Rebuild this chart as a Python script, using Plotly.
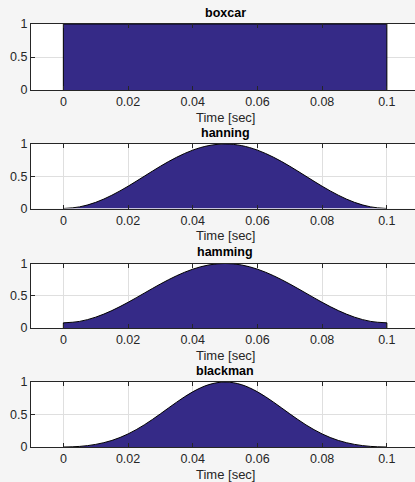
import plotly.graph_objects as go

# ---- data ----
titles = ["boxcar", "hanning", "hamming", "blackman"]
t_box = [0.0, 0.1]
boxcar = [1.0, 1.0]
t = [0.0, 0.005, 0.01, 0.015, 0.02, 0.025, 0.03, 0.035, 0.04, 0.045, 0.05,
     0.055, 0.06, 0.065, 0.07, 0.075, 0.08, 0.085, 0.09, 0.095, 0.1]
hanning = [0.0, 0.025, 0.095, 0.206, 0.345, 0.5, 0.655, 0.794, 0.905, 0.976, 1.0,
           0.976, 0.905, 0.794, 0.655, 0.5, 0.345, 0.206, 0.095, 0.025, 0.0]
hamming = [0.08, 0.102, 0.168, 0.27, 0.398, 0.54, 0.682, 0.81, 0.912, 0.978, 1.0,
           0.978, 0.912, 0.81, 0.682, 0.54, 0.398, 0.27, 0.168, 0.102, 0.08]
blackman = [0.0, 0.009, 0.04, 0.101, 0.201, 0.34, 0.51, 0.689, 0.849, 0.96, 1.0,
            0.96, 0.849, 0.689, 0.51, 0.34, 0.201, 0.101, 0.04, 0.009, 0.0]
x_ticks = [0, 0.02, 0.04, 0.06, 0.08, 0.1]
x_tick_text = ["0", "0.02", "0.04", "0.06", "0.08", "0.1"]
y_ticks = [0, 0.5, 1]
y_tick_text = ["0", "0.5", "1"]
x_label = "Time [sec]"

series = [(t_box, boxcar, "linear"), (t, hanning, "spline"),
          (t, hamming, "spline"), (t, blackman, "spline")]

W, H = 415, 482
plot_px = [(24, 90), (144, 208.5), (263.5, 328), (382, 447)]
left_px = 31
x_range = [-0.01, 0.1087]

FILL = "#352a87"
AX = "#262626"
FONT = "Liberation Sans, Arial, Helvetica, sans-serif"

fig = go.Figure()
for i, ((xs, ys, shape), title) in enumerate(zip(series, titles)):
    k = "" if i == 0 else str(i + 1)
    fig.add_trace(go.Scatter(
        x=xs, y=ys, mode="lines", fill="tozeroy", fillcolor=FILL,
        line=dict(color="black", width=1, shape=shape),
        xaxis="x" + k, yaxis="y" + k, showlegend=False, hoverinfo="skip"))
    # vertical edges of the area at both ends
    fig.add_trace(go.Scatter(
        x=[xs[0], xs[0], None, xs[-1], xs[-1]],
        y=[0, ys[0], None, 0, ys[-1]], mode="lines",
        line=dict(color="black", width=1),
        xaxis="x" + k, yaxis="y" + k, showlegend=False, hoverinfo="skip"))
    top, bot = plot_px[i]
    fig.layout["xaxis" + k] = dict(
        domain=[left_px / W, 1], range=x_range, anchor="y" + k, automargin=False,
        tickvals=x_ticks, ticktext=x_tick_text, ticks="inside", ticklen=4,
        tickcolor=AX, showline=True, linecolor=AX, linewidth=1, mirror="ticks",
        showgrid=True, gridcolor="#dfdfdf", gridwidth=1, zeroline=False,
        tickfont=dict(family=FONT, size=12.5, color=AX), fixedrange=True)
    fig.layout["yaxis" + k] = dict(
        domain=[1 - bot / H, 1 - top / H], range=[0, 1], anchor="x" + k,
        automargin=False,
        tickvals=y_ticks, ticktext=y_tick_text, ticks="inside", ticklen=4,
        tickcolor=AX, showline=True, linecolor=AX, linewidth=1, mirror=False,
        showgrid=True, gridcolor="#dfdfdf", gridwidth=1, zeroline=False,
        tickfont=dict(family=FONT, size=12.5, color=AX), fixedrange=True)
    mid = (x_ticks[0] + x_ticks[-1]) / 2
    fig.add_annotation(x=mid, xref="x" + k, y=1, yref="y" + k + " domain",
                       text="<b>" + title + "</b>", showarrow=False,
                       yanchor="middle", yshift=11.5,
                       font=dict(family=FONT, size=12.5, color="black"))
    fig.add_annotation(x=mid, xref="x" + k, y=0, yref="y" + k + " domain",
                       text=x_label, showarrow=False, yanchor="middle",
                       yshift=-27, font=dict(family=FONT, size=13, color=AX))

fig.update_layout(width=W, height=H, margin=dict(l=0, r=0, t=0, b=0),
                  paper_bgcolor="#f5f5f5", plot_bgcolor="white",
                  hovermode=False)
fig.write_html("out.html",
               config={"displayModeBar": False, "staticPlot": True},
               post_script="document.body.style.margin='0';"
                           "document.body.style.overflow='hidden';")
